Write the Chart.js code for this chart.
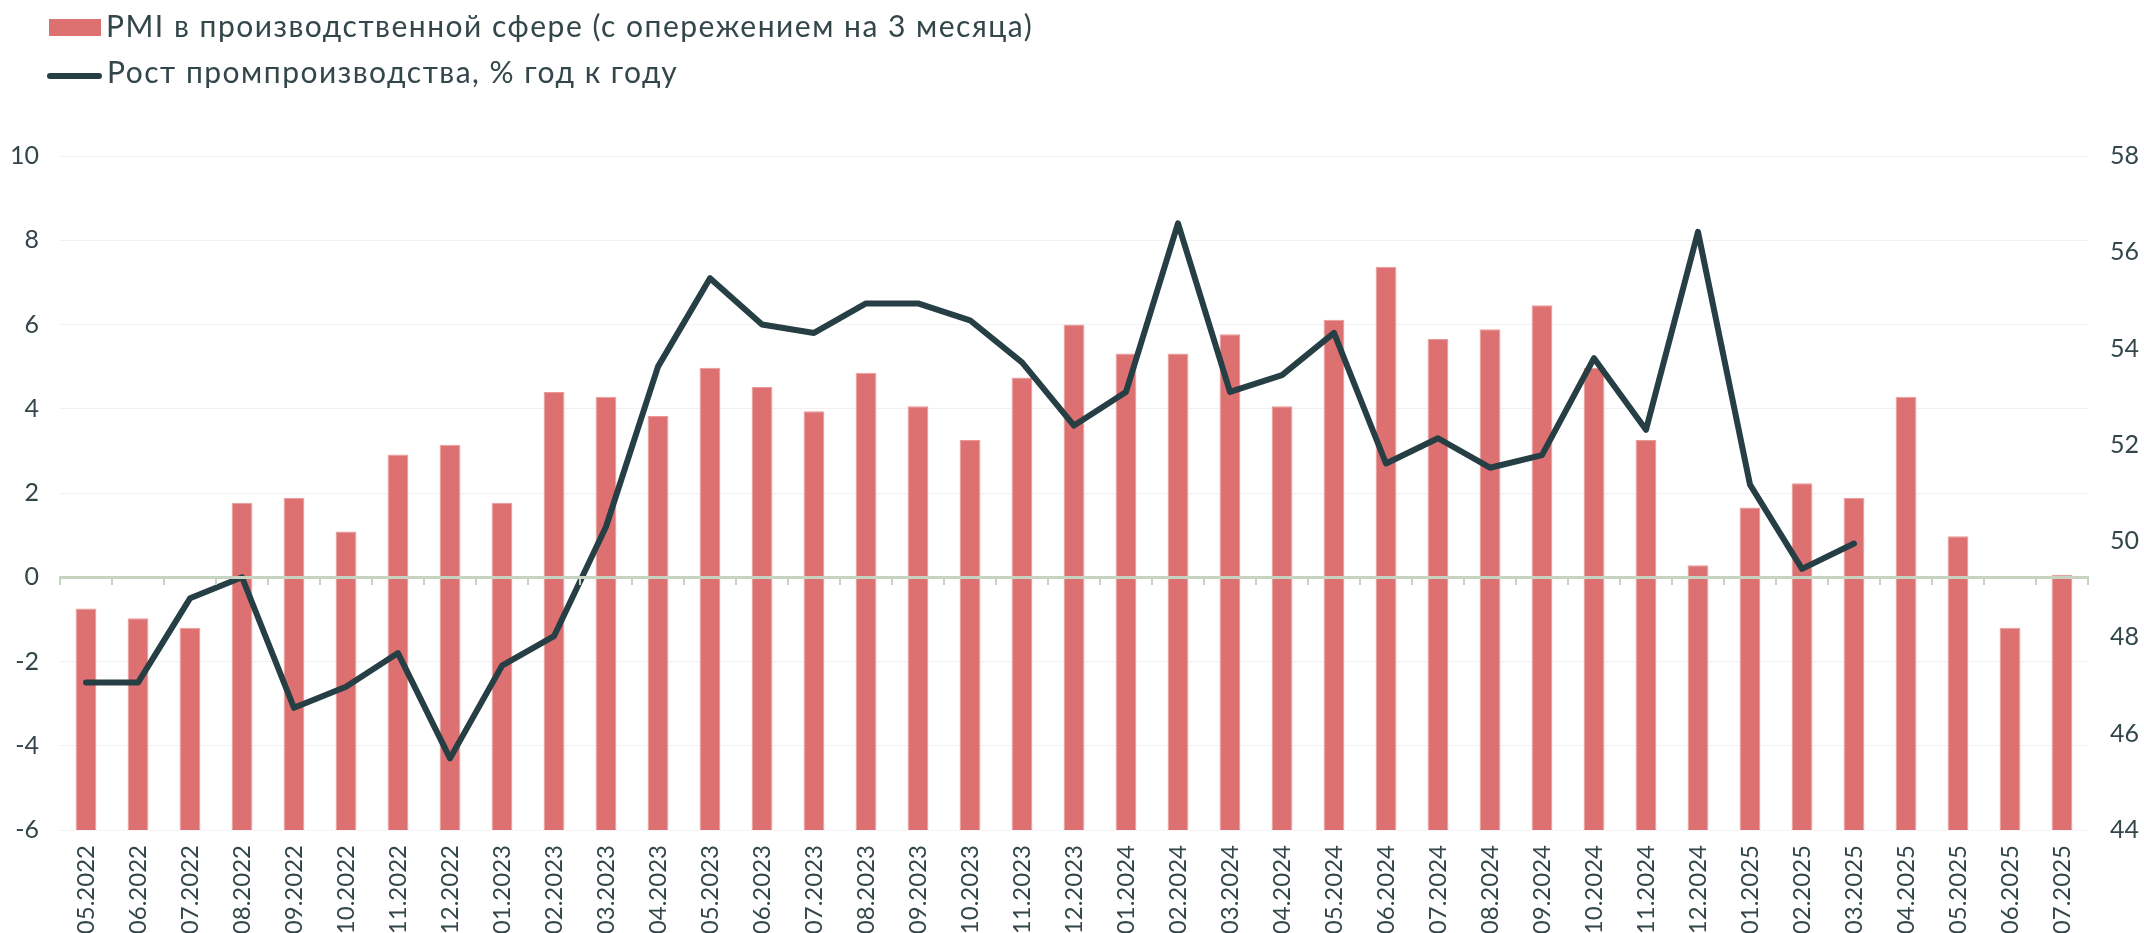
<!DOCTYPE html>
<html>
<head>
<meta charset="utf-8">
<script src="https://cdn.jsdelivr.net/npm/chart.js@4.4.1/dist/chart.umd.min.js"></script>
<style>
  html, body { margin: 0; padding: 0; background: #ffffff; overflow: hidden; }
  #wrap { position: relative; width: 2144px; height: 933px; }
</style>
</head>
<body>
<div id="wrap"><canvas id="c"></canvas></div>
<script>
const categories = [
  '05.2022','06.2022','07.2022','08.2022','09.2022','10.2022','11.2022','12.2022',
  '01.2023','02.2023','03.2023','04.2023','05.2023','06.2023','07.2023','08.2023','09.2023','10.2023','11.2023','12.2023',
  '01.2024','02.2024','03.2024','04.2024','05.2024','06.2024','07.2024','08.2024','09.2024','10.2024','11.2024','12.2024',
  '01.2025','02.2025','03.2025','04.2025','05.2025','06.2025','07.2025'
];
const pmiValues = [
  48.6, 48.4, 48.2, 50.8, 50.9, 50.2, 51.8, 52.0,
  50.8, 53.1, 53.0, 52.6, 53.6, 53.2, 52.7, 53.5, 52.8, 52.1, 53.4, 54.5,
  53.9, 53.9, 54.3, 52.8, 54.6, 55.7, 54.2, 54.4, 54.9, 53.6, 52.1, 49.5,
  50.7, 51.2, 50.9, 53.0, 50.1, 48.2, 49.3
];
const productionGrowth = [
  -2.5, -2.5, -0.5, 0.0, -3.1, -2.6, -1.8, -4.3,
  -2.1, -1.4, 1.2, 5.0, 7.1, 6.0, 5.8, 6.5, 6.5, 6.1, 5.1, 3.6,
  4.4, 8.4, 4.4, 4.8, 5.8, 2.7, 3.3, 2.6, 2.9, 5.2, 3.5, 8.2,
  2.2, 0.2, 0.8, null, null, null, null
];
const seriesNames = [
  'PMI в производственной сфере (с опережением на 3 месяца)',
  'Рост промпроизводства, % год к году'
];
const leftTicks = { min: -6, max: 10, step: 2 };
const rightTicks = { min: 44, max: 58, step: 2 };

const TEXT = '#33464a';
const BAR = '#dd7070';
const LINE = '#263f44';
const FONT = 'Lato';

const legendPlugin = {
  id: 'customLegend',
  afterDraw(chart) {
    const ctx = chart.ctx;
    const ds = chart.data.datasets;
    ctx.save();
    ctx.font = '30px ' + FONT;
    try { ctx.letterSpacing = '1.5px'; } catch (e) {}
    ctx.textBaseline = 'middle';
    ctx.textAlign = 'left';
    // bar item
    ctx.fillStyle = ds[0].backgroundColor;
    ctx.fillRect(49, 19, 52, 17);
    ctx.fillStyle = TEXT;
    ctx.fillText(ds[0].label, 106, 27);
    // line item
    ctx.strokeStyle = ds[1].borderColor;
    ctx.lineWidth = 6;
    ctx.lineCap = 'round';
    ctx.beginPath();
    ctx.moveTo(50, 76);
    ctx.lineTo(99, 76);
    ctx.stroke();
    ctx.fillText(ds[1].label, 107, 73);
    ctx.restore();
  }
};

new Chart(document.getElementById('c'), {
  data: {
    labels: categories,
    datasets: [
      {
        type: 'bar',
        label: seriesNames[0],
        data: pmiValues,
        yAxisID: 'y1',
        xAxisID: 'x',
        backgroundColor: BAR,
        borderColor: '#e89a9a',
        borderWidth: 1,
        barPercentage: 0.4,
        categoryPercentage: 1.0,
        order: 1
      },
      {
        type: 'line',
        label: seriesNames[1],
        data: productionGrowth,
        yAxisID: 'y',
        xAxisID: 'x',
        borderColor: LINE,
        backgroundColor: LINE,
        borderWidth: 6,
        borderJoinStyle: 'round',
        borderCapStyle: 'round',
        tension: 0,
        pointRadius: 0,
        pointHoverRadius: 0,
        spanGaps: false,
        order: 0
      }
    ]
  },
  options: {
    responsive: true,
    maintainAspectRatio: false,
    animation: false,
    events: [],
    layout: { padding: { top: 156, left: 0, right: 0, bottom: 0 } },
    plugins: {
      legend: { display: false },
      tooltip: { enabled: false },
      title: { display: false }
    },
    scales: {
      x: {
        type: 'category',
        position: 'bottom',
        offset: true,
        grid: { display: false, drawTicks: false },
        border: { display: false },
        ticks: {
          autoSkip: false,
          minRotation: 90,
          maxRotation: 90,
          padding: 15,
          color: TEXT,
          font: { family: FONT, size: 24 }
        },
        afterFit(scale) { scale.height = 103; }
      },
      x2: {
        type: 'category',
        position: { y: 0 },
        offset: true,
        grid: {
          display: true,
          drawOnChartArea: false,
          drawTicks: true,
          tickLength: 6,
          color: '#c6d3c0',
          lineWidth: 2,
          offset: true,
          z: 1
        },
        border: { display: true, color: '#c6d3c0', width: 3, z: 1 },
        ticks: { display: false }
      },
      y: {
        type: 'linear',
        position: 'left',
        min: leftTicks.min,
        max: leftTicks.max,
        ticks: {
          stepSize: leftTicks.step,
          padding: 21,
          color: TEXT,
          font: { family: FONT, size: 25 }
        },
        grid: { color: '#f2f2f2', lineWidth: 1, drawTicks: false },
        border: { display: false },
        afterFit(scale) { scale.width = 60; }
      },
      y1: {
        type: 'linear',
        position: 'right',
        min: rightTicks.min,
        max: rightTicks.max,
        ticks: {
          stepSize: rightTicks.step,
          padding: 22,
          color: TEXT,
          font: { family: FONT, size: 25 }
        },
        grid: { drawOnChartArea: false, drawTicks: false },
        border: { display: false },
        afterFit(scale) { scale.width = 56; }
      }
    }
  },
  plugins: [legendPlugin]
});
</script>
</body>
</html>
